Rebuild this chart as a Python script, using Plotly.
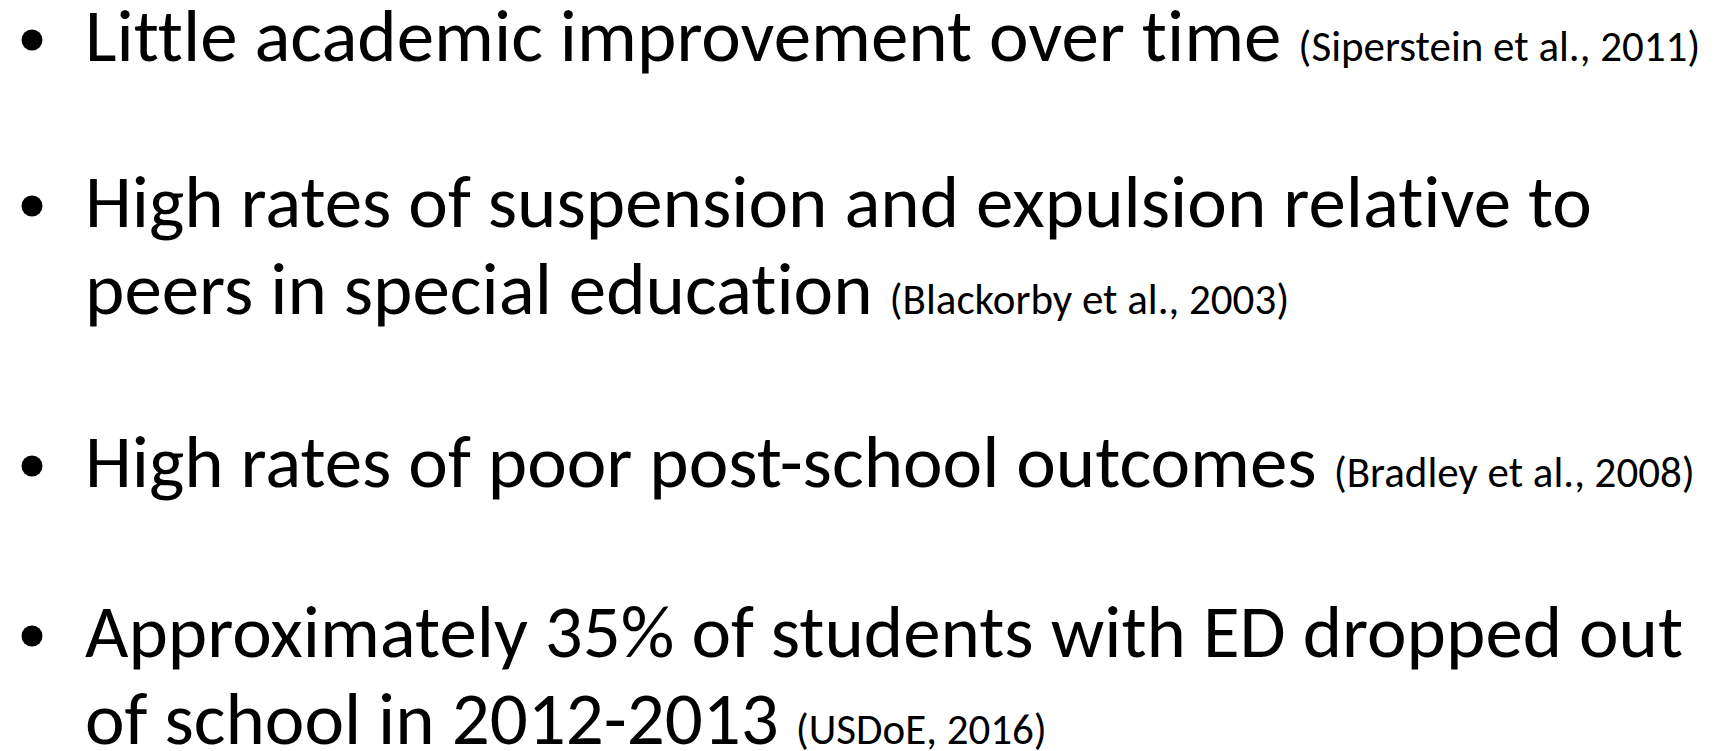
import plotly.graph_objects as go

# ---- slide content ----
bullet_lines = [
    ["Little academic improvement over time"],
    ["High rates of suspension and expulsion relative to", "peers in special education"],
    ["High rates of poor post-school outcomes"],
    ["Approximately 35% of students with ED dropped out", "of school in 2012-2013"],
]
citations = [
    "(Siperstein et al., 2011)",
    "(Blackorby et al., 2003)",
    "(Bradley et al., 2008)",
    "(USDoE, 2016)",
]

# ---- layout constants (pixels) ----
W, H = 1713, 751
FONT = "Carlito, Calibri, Lato, sans-serif"
MAIN_SIZE = 75
CITE_SIZE = 43
TEXT_X = 75
BULLET_X = 24
BULLET_DIAM = 21
BULLET_ABOVE_BASE = 25
FIRST_BASELINES = [57, 223, 483, 653]
LINE_STEP = 87
BASE_TO_MID = 0.40  # baseline -> annotation middle offset (fraction of font size)
NOLIG = "font-variant-ligatures:none;font-feature-settings:'liga' 0"

fig = go.Figure()
fig.add_trace(go.Scatter(x=[0, W], y=[0, H], mode="markers", marker=dict(opacity=0),
                         hoverinfo="skip", showlegend=False))

# bullets
fig.add_trace(go.Scatter(
    x=[BULLET_X] * len(FIRST_BASELINES),
    y=[b - BULLET_ABOVE_BASE for b in FIRST_BASELINES],
    mode="markers", marker=dict(symbol="circle", size=BULLET_DIAM, color="black", line=dict(width=0)),
    hoverinfo="skip", showlegend=False))

for lines, cite, base0 in zip(bullet_lines, citations, FIRST_BASELINES):
    for j, line in enumerate(lines):
        txt = f"<span style=\"{NOLIG}\">{line}</span>"
        if j == len(lines) - 1:
            txt += " " + f"<span style=\"font-size:{CITE_SIZE}px;{NOLIG}\">{cite}</span>"
        base = base0 + j * LINE_STEP
        fig.add_annotation(x=TEXT_X, y=base - BASE_TO_MID * MAIN_SIZE, xref="x", yref="y",
                           text=txt, showarrow=False, xanchor="left", yanchor="middle",
                           font=dict(family=FONT, size=MAIN_SIZE, color="black"))

fig.update_xaxes(range=[0, W], visible=False)
fig.update_yaxes(range=[H, 0], visible=False)
fig.update_layout(width=W, height=H, margin=dict(l=0, r=0, t=0, b=0),
                  plot_bgcolor="white", paper_bgcolor="white", showlegend=False)
fig.write_html("out.html", config={"displayModeBar": False})
